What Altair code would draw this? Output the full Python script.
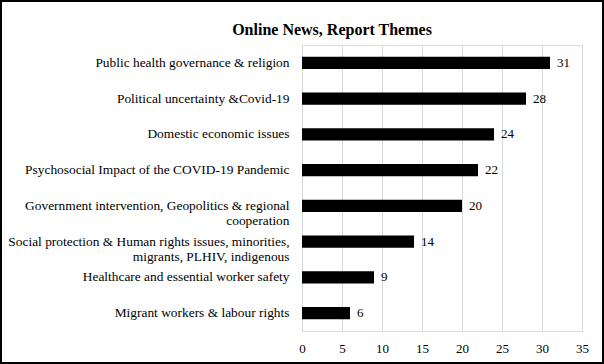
import altair as alt
import pandas as pd

themes = [
    "Public health governance & religion",
    "Political uncertainty &Covid-19",
    "Domestic economic issues",
    "Psychosocial Impact of the COVID-19 Pandemic",
    "Government intervention, Geopolitics & regional|cooperation",
    "Social protection & Human rights issues, minorities,|migrants, PLHIV, indigenous",
    "Healthcare and essential worker safety",
    "Migrant workers & labour rights",
]
counts = [31, 28, 24, 22, 20, 14, 9, 6]
x_ticks = [0, 5, 10, 15, 20, 25, 30, 35]
chart_title = "Online News, Report Themes"

df = pd.DataFrame({"theme": themes, "count": counts})

FONT = "Liberation Serif"
W, H = 280, 286
PL, PT, PR, PB = 302, 45, 22, 33

y_enc = alt.Y("theme:N", sort=themes, title=None,
              scale=alt.Scale(paddingInner=0.66, paddingOuter=0.33),
              axis=alt.Axis(labelExpr="split(datum.label, '|')", labelFont=FONT,
                            labelFontSize=13.4, labelColor="black", labelPadding=13,
                            ticks=False, domain=False, grid=False, labelLimit=300,
                            labelLineHeight=15))
x_enc = alt.X("count:Q", title=None,
              scale=alt.Scale(domain=[0, 35], nice=False),
              axis=alt.Axis(values=x_ticks, labelFont=FONT, labelFontSize=13,
                            labelColor="black", labelPadding=11, ticks=False,
                            labelOverlap=False, labelFlush=False,
                            domain=False, grid=True, gridColor="#d9d9d9",
                            gridWidth=1))

bars = alt.Chart(df).mark_bar(color="black").encode(x=x_enc, y=y_enc)
labels = alt.Chart(df).mark_text(align="left", baseline="middle", dx=7,
                                 font=FONT, fontSize=13, color="black").encode(
    x=x_enc, y=y_enc, text="count:Q")

title_df = pd.DataFrame({"t": [chart_title]})
title_mark = alt.Chart(title_df).mark_text(
    font=FONT, fontSize=16, fontWeight="bold", color="black",
    align="center", baseline="alphabetic").encode(
    text="t:N", x=alt.value(332 - PL), y=alt.value(35 - PT))

border = alt.Chart(pd.DataFrame({"a": [0]})).mark_rect(
    fill=None, stroke="black", strokeWidth=2, clip=False).encode(
    x=alt.value(-PL + 1), x2=alt.value(W + PR - 1),
    y=alt.value(-PT + 1), y2=alt.value(H + PB - 1))

chart = alt.layer(bars, labels, title_mark, border).properties(
    width=W, height=H,
    padding={"left": PL, "top": PT, "right": PR, "bottom": PB},
    autosize=alt.AutoSizeParams(type="none"),
).configure_view(stroke=None).configure(background="white")

chart.save("out.html", embed_options={"renderer": "svg", "actions": False})
